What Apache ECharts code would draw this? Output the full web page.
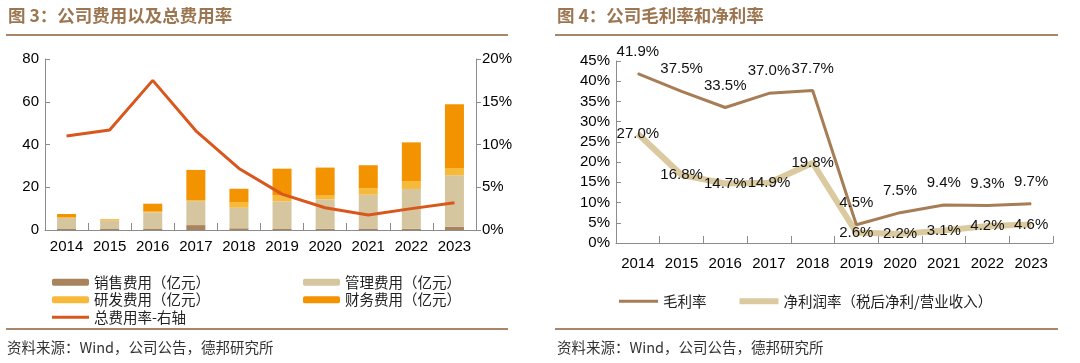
<!DOCTYPE html>
<html>
<head>
<meta charset="utf-8">
<script src="https://cdn.jsdelivr.net/npm/echarts@6/dist/echarts.min.js"></script>
<style>
html,body{margin:0;padding:0;background:#fff;}
#c{width:1080px;height:363px;}
</style>
</head>
<body>
<div id="c"></div>
<script>
// ---- data ----
var years = ['2014','2015','2016','2017','2018','2019','2020','2021','2022','2023'];
var salesExp = [0.7, 0.7, 0.7, 2.3, 0.8, 0.7, 0.6, 0.7, 0.6, 1.6];
var adminExp = [4.9, 3.7, 7.5, 11.2, 9.6, 12.7, 13.7, 15.8, 18.6, 24.0];
var rdExp = [0.3, 0.5, 0.4, 0.4, 2.5, 2.7, 1.8, 3.0, 3.7, 3.4];
var finExp = [1.6, 0.2, 3.7, 14.2, 6.4, 12.6, 13.1, 10.8, 18.1, 29.8];
var totalExpRate = [11.0, 11.7, 17.5, 11.6, 7.2, 4.2, 2.6, 1.75, 2.5, 3.2];
var grossMargin = [41.9, 37.5, 33.5, 37.0, 37.7, 4.5, 7.5, 9.4, 9.3, 9.7];
var netMargin = [27.0, 16.8, 14.7, 14.9, 19.8, 2.6, 2.2, 3.1, 4.2, 4.6];
var leftTicksAmt = {min:0, max:80, interval:20};
var leftTicksPct = {min:0, max:20, interval:5};
var rightTicksPct = {min:0, max:45, interval:5};

var NUM = '"Liberation Sans", Arial, sans-serif';
var CJK = '"Noto Sans CJK SC", sans-serif';
var AX = '#8c8c8c';
var TITLE = '#9C7651';
var RULE = '#A8866A';
var LINE3 = 'path://M0,0h39v3h-39z';
var LINE6 = 'path://M0,0h39v6h-39z';

var chart = echarts.init(document.getElementById('c'));

function yAx(grid, t, pos, fmt){
  return {
    type:'value', gridIndex:grid, position:pos, min:t.min, max:t.max, interval:t.interval,
    axisLine:{show:true, lineStyle:{color:AX, width:1}},
    axisTick:{show:true, inside: pos==='left', length:5, lineStyle:{color:AX}},
    splitLine:{show:false},
    axisLabel:{color:'#000', fontSize:15, fontFamily:NUM, margin:6, formatter:fmt}
  };
}
function xAx(grid, margin){
  return {
    type:'category', gridIndex:grid, data:years, boundaryGap:true,
    axisLine:{show:true, lineStyle:{color:AX, width:1}},
    axisTick:{show:true, inside:true, length:7, lineStyle:{color:AX}},
    axisLabel:{color:'#000', fontSize:15, fontFamily:NUM, margin:margin, interval:0}
  };
}
var pctFmt = function(p){return p.value.toFixed(1)+'%';};

var option = {
  animation:false,
  backgroundColor:'#fff',
  grid:[
    {left:45, top:59, width:431, height:171},
    {left:616, top:61, width:437, height:182}
  ],
  xAxis:[xAx(0, 9), xAx(1, 13)],
  yAxis:[
    yAx(0, leftTicksAmt, 'left', '{value}'),
    yAx(0, leftTicksPct, 'right', '{value}%'),
    yAx(1, rightTicksPct, 'left', '{value}%')
  ],
  legend:[
    {orient:'vertical', left:52, top:275, padding:0, itemWidth:37, itemHeight:7, itemGap:3,
     textStyle:{fontFamily:CJK, fontSize:14.5, color:'#222', lineHeight:14},
     data:['销售费用（亿元）','研发费用（亿元）',{name:'总费用率-右轴', icon:LINE3}]},
    {orient:'vertical', left:303, top:275, padding:0, itemWidth:37, itemHeight:7, itemGap:3,
     textStyle:{fontFamily:CJK, fontSize:14.5, color:'#222', lineHeight:14},
     data:['管理费用（亿元）','财务费用（亿元）']},
    {orient:'horizontal', left:619, top:294, padding:0, itemWidth:39, itemHeight:8, itemGap:33,
     textStyle:{fontFamily:CJK, fontSize:14.5, color:'#222'},
     data:[{name:'毛利率', icon:LINE3},{name:'净利润率（税后净利/营业收入）', icon:LINE6}]}
  ],
  series:[
    {name:'销售费用（亿元）', type:'bar', stack:'e', xAxisIndex:0, yAxisIndex:0, barWidth:19,
     itemStyle:{color:'#A8835D'}, data:salesExp},
    {name:'管理费用（亿元）', type:'bar', stack:'e', xAxisIndex:0, yAxisIndex:0, barWidth:19,
     itemStyle:{color:'#D6C6A0'}, data:adminExp},
    {name:'研发费用（亿元）', type:'bar', stack:'e', xAxisIndex:0, yAxisIndex:0, barWidth:19,
     itemStyle:{color:'#F6B93A'}, data:rdExp},
    {name:'财务费用（亿元）', type:'bar', stack:'e', xAxisIndex:0, yAxisIndex:0, barWidth:19,
     itemStyle:{color:'#F39300'}, data:finExp},
    {name:'总费用率-右轴', type:'line', xAxisIndex:0, yAxisIndex:1, symbol:'none',
     lineStyle:{color:'#D9571C', width:3}, itemStyle:{color:'#D9571C'}, data:totalExpRate, z:5},
    {name:'净利润率（税后净利/营业收入）', type:'line', xAxisIndex:1, yAxisIndex:2,
     symbol:'circle', symbolSize:1, showSymbol:true,
     lineStyle:{color:'#DBCA9F', width:6}, itemStyle:{color:'#DBCA9F'},
     label:{show:true, position:'inside', color:'#111', fontSize:15, fontFamily:NUM, formatter:pctFmt},
     labelLayout:{hideOverlap:false},
     data:netMargin, z:3},
    {name:'毛利率', type:'line', xAxisIndex:1, yAxisIndex:2,
     symbol:'circle', symbolSize:1, showSymbol:true,
     lineStyle:{color:'#A67D55', width:3}, itemStyle:{color:'#A67D55'},
     label:{show:true, position:'top', distance:14, color:'#111', fontSize:15, fontFamily:NUM, formatter:pctFmt},
     labelLayout:{hideOverlap:false},
     data:grossMargin, z:4}
  ],
  graphic:[
    {type:'text', left:8, top:7, style:{text:'图 3：公司费用以及总费用率', font:'bold 17.5px "Noto Sans CJK SC"', fill:TITLE}},
    {type:'text', left:557, top:7, style:{text:'图 4：公司毛利率和净利率', font:'bold 17.5px "Noto Sans CJK SC"', fill:TITLE}},
    {type:'rect', shape:{x:6, y:34, width:502, height:2}, style:{fill:RULE}},
    {type:'rect', shape:{x:555, y:34, width:503, height:2}, style:{fill:RULE}},
    {type:'rect', shape:{x:6, y:328, width:502, height:2}, style:{fill:RULE}},
    {type:'rect', shape:{x:555, y:328, width:503, height:2}, style:{fill:RULE}},
    {type:'text', left:7, top:340, style:{text:'资料来源：Wind，公司公告，德邦研究所', font:'14.5px "Noto Sans CJK SC"', fill:'#333'}},
    {type:'text', left:557, top:340, style:{text:'资料来源：Wind，公司公告，德邦研究所', font:'14.5px "Noto Sans CJK SC"', fill:'#333'}}
  ]
};
chart.setOption(option);
</script>
</body>
</html>
